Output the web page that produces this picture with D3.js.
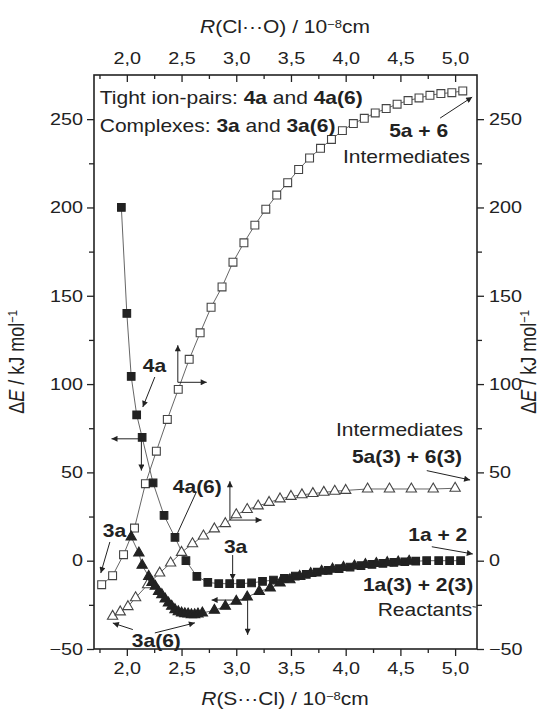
<!DOCTYPE html>
<html>
<head>
<meta charset="utf-8">
<script src="https://cdn.jsdelivr.net/npm/d3@7"></script>
<style>
body { margin: 0; background: #fff; }
svg { display: block; }
</style>
</head>
<body>
<div id="chart"></div>
<script>
// open squares: 5a + 6 (top / right axes)
var sqOpenX = [1.77,1.87,1.97,2.07,2.17,2.27,2.37,2.47,2.57,2.67,2.77,2.87,2.97,3.07,3.17,3.27,3.37,3.47,3.57,3.67,3.77,3.87,3.97,4.07,4.17,4.27,4.37,4.47,4.57,4.67,4.77,4.87,4.97,5.07];
var sqOpenE = [-13.6,-8.5,3.4,18.5,43.6,62,80,97,114,129,143.5,155,169,180,190,199,207,214,221.5,228,233.5,238.5,243.5,247.5,250.5,253.5,256,258.5,260.5,262,263.5,264.5,265,266];

// filled squares: 4a -> 3a -> 1a + 2 (bottom / left axes)
var sqFillX = [1.95,2.0,2.04,2.09,2.14,2.24,2.34,2.44,2.54,2.64,2.74,2.84,2.94,3.04,3.14,3.24,3.34,3.44,3.54,3.64,3.74,3.84,3.94,4.04,4.14,4.24,4.34,4.44,4.54,4.64,4.74,4.85,4.95,5.05];
var sqFillE = [200,140,104.3,82.6,69.8,44,25.6,13.2,0,-8.9,-12.3,-13,-13,-13,-12.6,-11.7,-11,-10,-8.7,-7.7,-6.5,-5.5,-4.5,-3.6,-2.8,-2.1,-1.5,-1,-0.6,-0.3,0,0,0,0];

// filled triangles: 3a(6) -> 1a(3) + 2(3) (bottom / left axes)
var triFillX = [2.04,2.11,2.14,2.2,2.23,2.26,2.29,2.32,2.35,2.38,2.41,2.44,2.47,2.5,2.53,2.56,2.59,2.62,2.65,2.69,2.8,2.9,3.0,3.1,3.21,3.31,3.4,3.49,3.58,3.68,3.78,3.88,3.98,4.08,4.18,4.28,4.38,4.48,4.58];
var triFillE = [13.4,4.3,-2.6,-8.9,-12.3,-14.5,-17.4,-19.2,-21.7,-24,-25.8,-27.7,-28.9,-29.6,-30,-30.2,-30.6,-30.6,-30.2,-29.6,-28.1,-25.8,-23,-20.6,-17.4,-15.5,-12.6,-10.8,-8.9,-7.3,-6,-4.8,-3.8,-3,-2.2,-1.6,-1.1,-0.7,-0.3];

// open triangles: 4a(6) -> 5a(3) + 6(3) (top / right axes)
var triOpenX = [1.87,1.94,2.01,2.08,2.19,2.3,2.4,2.5,2.6,2.7,2.8,2.9,3.0,3.1,3.2,3.3,3.4,3.5,3.6,3.7,3.8,3.9,4.0,4.2,4.4,4.6,4.8,5.0];
var triOpenE = [-31.5,-29,-26,-21,-13.6,-7,-1.3,4.7,9.6,14,18,21,26,29,31,33,35,36.4,37.3,38,38.7,39.3,39.8,40.6,40.6,40.6,40.6,41];

var xMajor = [2.0,2.5,3.0,3.5,4.0,4.5,5.0];
var xMinor = [1.75,2.25,2.75,3.25,3.75,4.25,4.75];
var yMajor = [-50,0,50,100,150,200,250];
var yMinor = [-25,25,75,125,175,225];

var W = 555, H = 712;
var SX = 1.2; // the original figure is stretched sideways
var ink = "#222";
var font = "'Liberation Sans', Arial, sans-serif";

var svg = d3.select("#chart").append("svg")
    .attr("width", W).attr("height", H)
    .style("font-family", font);

var x = d3.scaleLinear().domain([1.7, 5.2]).range([94, 477]);
var y = d3.scaleLinear().domain([-50, 275]).range([649, 75]);

var defs = svg.append("defs");
defs.append("marker")
    .attr("id", "ah")
    .attr("viewBox", "0 0 10 10")
    .attr("refX", 10).attr("refY", 5)
    .attr("markerUnits", "userSpaceOnUse")
    .attr("markerWidth", 8).attr("markerHeight", 6)
    .attr("orient", "auto")
    .append("path").attr("d", "M0,0 L10,5 L0,10 z").attr("fill", ink);

function stretchText(sel) {
    sel.selectAll("text").each(function() {
        var t = d3.select(this);
        t.attr("x", (+t.attr("x") || 0) / SX).attr("transform", "scale(" + SX + ",1)");
    });
}

function styleAxis(g) {
    g.select(".domain").remove();
    g.selectAll("line").attr("stroke", ink).attr("stroke-width", 1.3);
    g.selectAll("text").attr("fill", ink).style("font-size", "16.5px").style("font-family", font);
}

var fmt = function(d) { return d.toFixed(1).replace(".", ","); };

// bottom axis
var gb = svg.append("g").attr("transform", "translate(0," + y(-50) + ")");
gb.call(d3.axisBottom(x).tickValues(xMajor).tickFormat(fmt).tickSize(7).tickPadding(6)).call(styleAxis);
stretchText(gb);
svg.append("g").attr("transform", "translate(0," + y(-50) + ")")
    .call(d3.axisBottom(x).tickValues(xMinor).tickFormat("").tickSize(4)).call(styleAxis);

// top axis (inward ticks)
var gt = svg.append("g").attr("transform", "translate(0," + y(275) + ")");
gt.call(d3.axisTop(x).tickValues(xMajor).tickFormat(fmt).tickSize(-7).tickPadding(11)).call(styleAxis);
stretchText(gt);
svg.append("g").attr("transform", "translate(0," + y(275) + ")")
    .call(d3.axisTop(x).tickValues(xMinor).tickFormat("").tickSize(-4)).call(styleAxis);

// left axis
var gl = svg.append("g").attr("transform", "translate(" + x(1.7) + ",0)");
gl.call(d3.axisLeft(y).tickValues(yMajor).tickSize(7).tickPadding(4)).call(styleAxis);
stretchText(gl);
svg.append("g").attr("transform", "translate(" + x(1.7) + ",0)")
    .call(d3.axisLeft(y).tickValues(yMinor).tickFormat("").tickSize(5)).call(styleAxis);

// right axis
var gr = svg.append("g").attr("transform", "translate(" + x(5.2) + ",0)");
gr.call(d3.axisRight(y).tickValues(yMajor).tickSize(7).tickPadding(5)).call(styleAxis);
stretchText(gr);
svg.append("g").attr("transform", "translate(" + x(5.2) + ",0)")
    .call(d3.axisRight(y).tickValues(yMinor).tickFormat("").tickSize(5)).call(styleAxis);

// frame
svg.append("rect")
    .attr("x", x(1.7)).attr("y", y(275))
    .attr("width", x(5.2) - x(1.7)).attr("height", y(-50) - y(275))
    .attr("fill", "none").attr("stroke", ink).attr("stroke-width", 1.6);

// rich text helper
function label(px, py, parts, anchor, size, rot) {
    var t = svg.append("text")
        .attr("transform", "translate(" + px + "," + py + ") scale(" + SX + ",1)" + (rot ? " rotate(" + rot + ")" : ""))
        .attr("text-anchor", anchor || "start")
        .attr("fill", ink)
        .style("font-size", (size || 17.5) + "px");
    parts.forEach(function(p) {
        var s = t.append("tspan").text(p.t);
        if (p.b) s.attr("font-weight", "bold");
        if (p.i) s.attr("font-style", "italic");
        if (p.sup) s.attr("dy", "-0.5em").style("font-size", "0.62em");
        if (p.down) s.attr("dy", "0.31em");
    });
    return t;
}

// axis titles
label(285, 33, [{t: "R", i: 1}, {t: "(Cl\u00b7\u00b7\u00b7O) / 10"}, {t: "\u22128", sup: 1}, {t: "cm", down: 1}], "middle");
label(285, 705, [{t: "R", i: 1}, {t: "(S\u00b7\u00b7\u00b7Cl) / 10"}, {t: "\u22128", sup: 1}, {t: "cm", down: 1}], "middle");
label(24, 362, [{t: "\u0394"}, {t: "E", i: 1}, {t: " / kJ mol"}, {t: "\u22121", sup: 1}], "middle", 18, -90);
label(536, 362, [{t: "\u0394"}, {t: "E", i: 1}, {t: " / kJ mol"}, {t: "\u22121", sup: 1}], "middle", 18, -90);

// series
var lineGen = d3.line().x(function(d) { return x(d[0]); }).y(function(d) { return y(d[1]); });
function pts(xs, es) { return xs.map(function(v, i) { return [v, es[i]]; }); }

var series = [
    {pts: pts(sqOpenX, sqOpenE), shape: d3.symbolSquare, fill: "#fff", size: 62},
    {pts: pts(triOpenX, triOpenE), shape: d3.symbolTriangle, fill: "#fff", size: 46},
    {pts: pts(sqFillX, sqFillE), shape: d3.symbolSquare, fill: ink, size: 58},
    {pts: pts(triFillX, triFillE), shape: d3.symbolTriangle, fill: ink, size: 46}
];

series.forEach(function(s) {
    svg.append("path").attr("d", lineGen(s.pts))
        .attr("fill", "none").attr("stroke", "#555").attr("stroke-width", 0.9);
});
series.forEach(function(s) {
    svg.append("g").selectAll("path").data(s.pts).enter().append("path")
        .attr("transform", function(d) { return "translate(" + x(d[0]) + "," + y(d[1]) + ")"; })
        .attr("d", d3.symbol().type(s.shape).size(s.size))
        .attr("fill", s.fill)
        .attr("stroke", s.fill === "#fff" ? "#444" : ink)
        .attr("stroke-width", 1.1);
});

// arrows (data coordinates)
function arrow(x1, e1, x2, e2, head) {
    svg.append("line")
        .attr("x1", x(x1)).attr("y1", y(e1)).attr("x2", x(x2)).attr("y2", y(e2))
        .attr("stroke", ink).attr("stroke-width", 1)
        .attr("marker-end", head === false ? null : "url(#ah)");
}

// axis pointers
arrow(2.466, 101, 2.466, 122);
arrow(2.466, 101, 2.73, 101);
arrow(2.133, 69, 1.86, 69);
arrow(2.133, 69, 2.133, 51);
arrow(2.942, 23, 2.942, 45);
arrow(2.942, 23, 3.232, 23);
arrow(3.104, -22.3, 2.775, -22.3);
arrow(3.104, -22.3, 3.104, -42);

// label arrows
arrow(4.863, 250.6, 5.156, 262.5);
arrow(2.256, 104, 2.146, 87);
arrow(1.845, 10.6, 1.762, -7);
arrow(2.636, 39, 2.436, 11.9, false);
arrow(2.967, 3.2, 2.967, -11);
arrow(2.055, -39, 1.872, -35.3);
arrow(2.256, -40.9, 2.622, -35.2);
arrow(4.741, 51, 5.137, 45.7);
arrow(4.787, 7.9, 5.162, 3.8);
arrow(5.16, -26, 5.19, -26.3, false);

// annotation texts
label(x(1.753), y(258.6), [{t: "Tight ion-pairs: "}, {t: "4a", b: 1}, {t: " and "}, {t: "4a(6)", b: 1}]);
label(x(1.753), y(243), [{t: "Complexes: "}, {t: "3a", b: 1}, {t: " and "}, {t: "3a(6)", b: 1}]);
label(x(4.936), y(239.9), [{t: "5a + 6", b: 1}], "end");
label(x(5.137), y(225), [{t: "Intermediates"}], "end");
label(x(2.146), y(106.9), [{t: "4a", b: 1}]);
label(x(1.78), y(13.4), [{t: "3a", b: 1}]);
label(x(2.42), y(38.3), [{t: "4a(6)", b: 1}]);
label(x(2.887), y(4.4), [{t: "3a", b: 1}]);
label(x(2.046), y(-48.9), [{t: "3a(6)", b: 1}]);
label(x(5.073), y(70.6), [{t: "Intermediates"}], "end");
label(x(5.064), y(55.3), [{t: "5a(3) + 6(3)", b: 1}], "end");
label(x(5.11), y(11.2), [{t: "1a + 2", b: 1}], "end");
label(x(5.165), y(-17.2), [{t: "1a(3) + 2(3)", b: 1}], "end");
label(x(5.156), y(-31.3), [{t: "Reactants"}], "end");
</script>
</body>
</html>
